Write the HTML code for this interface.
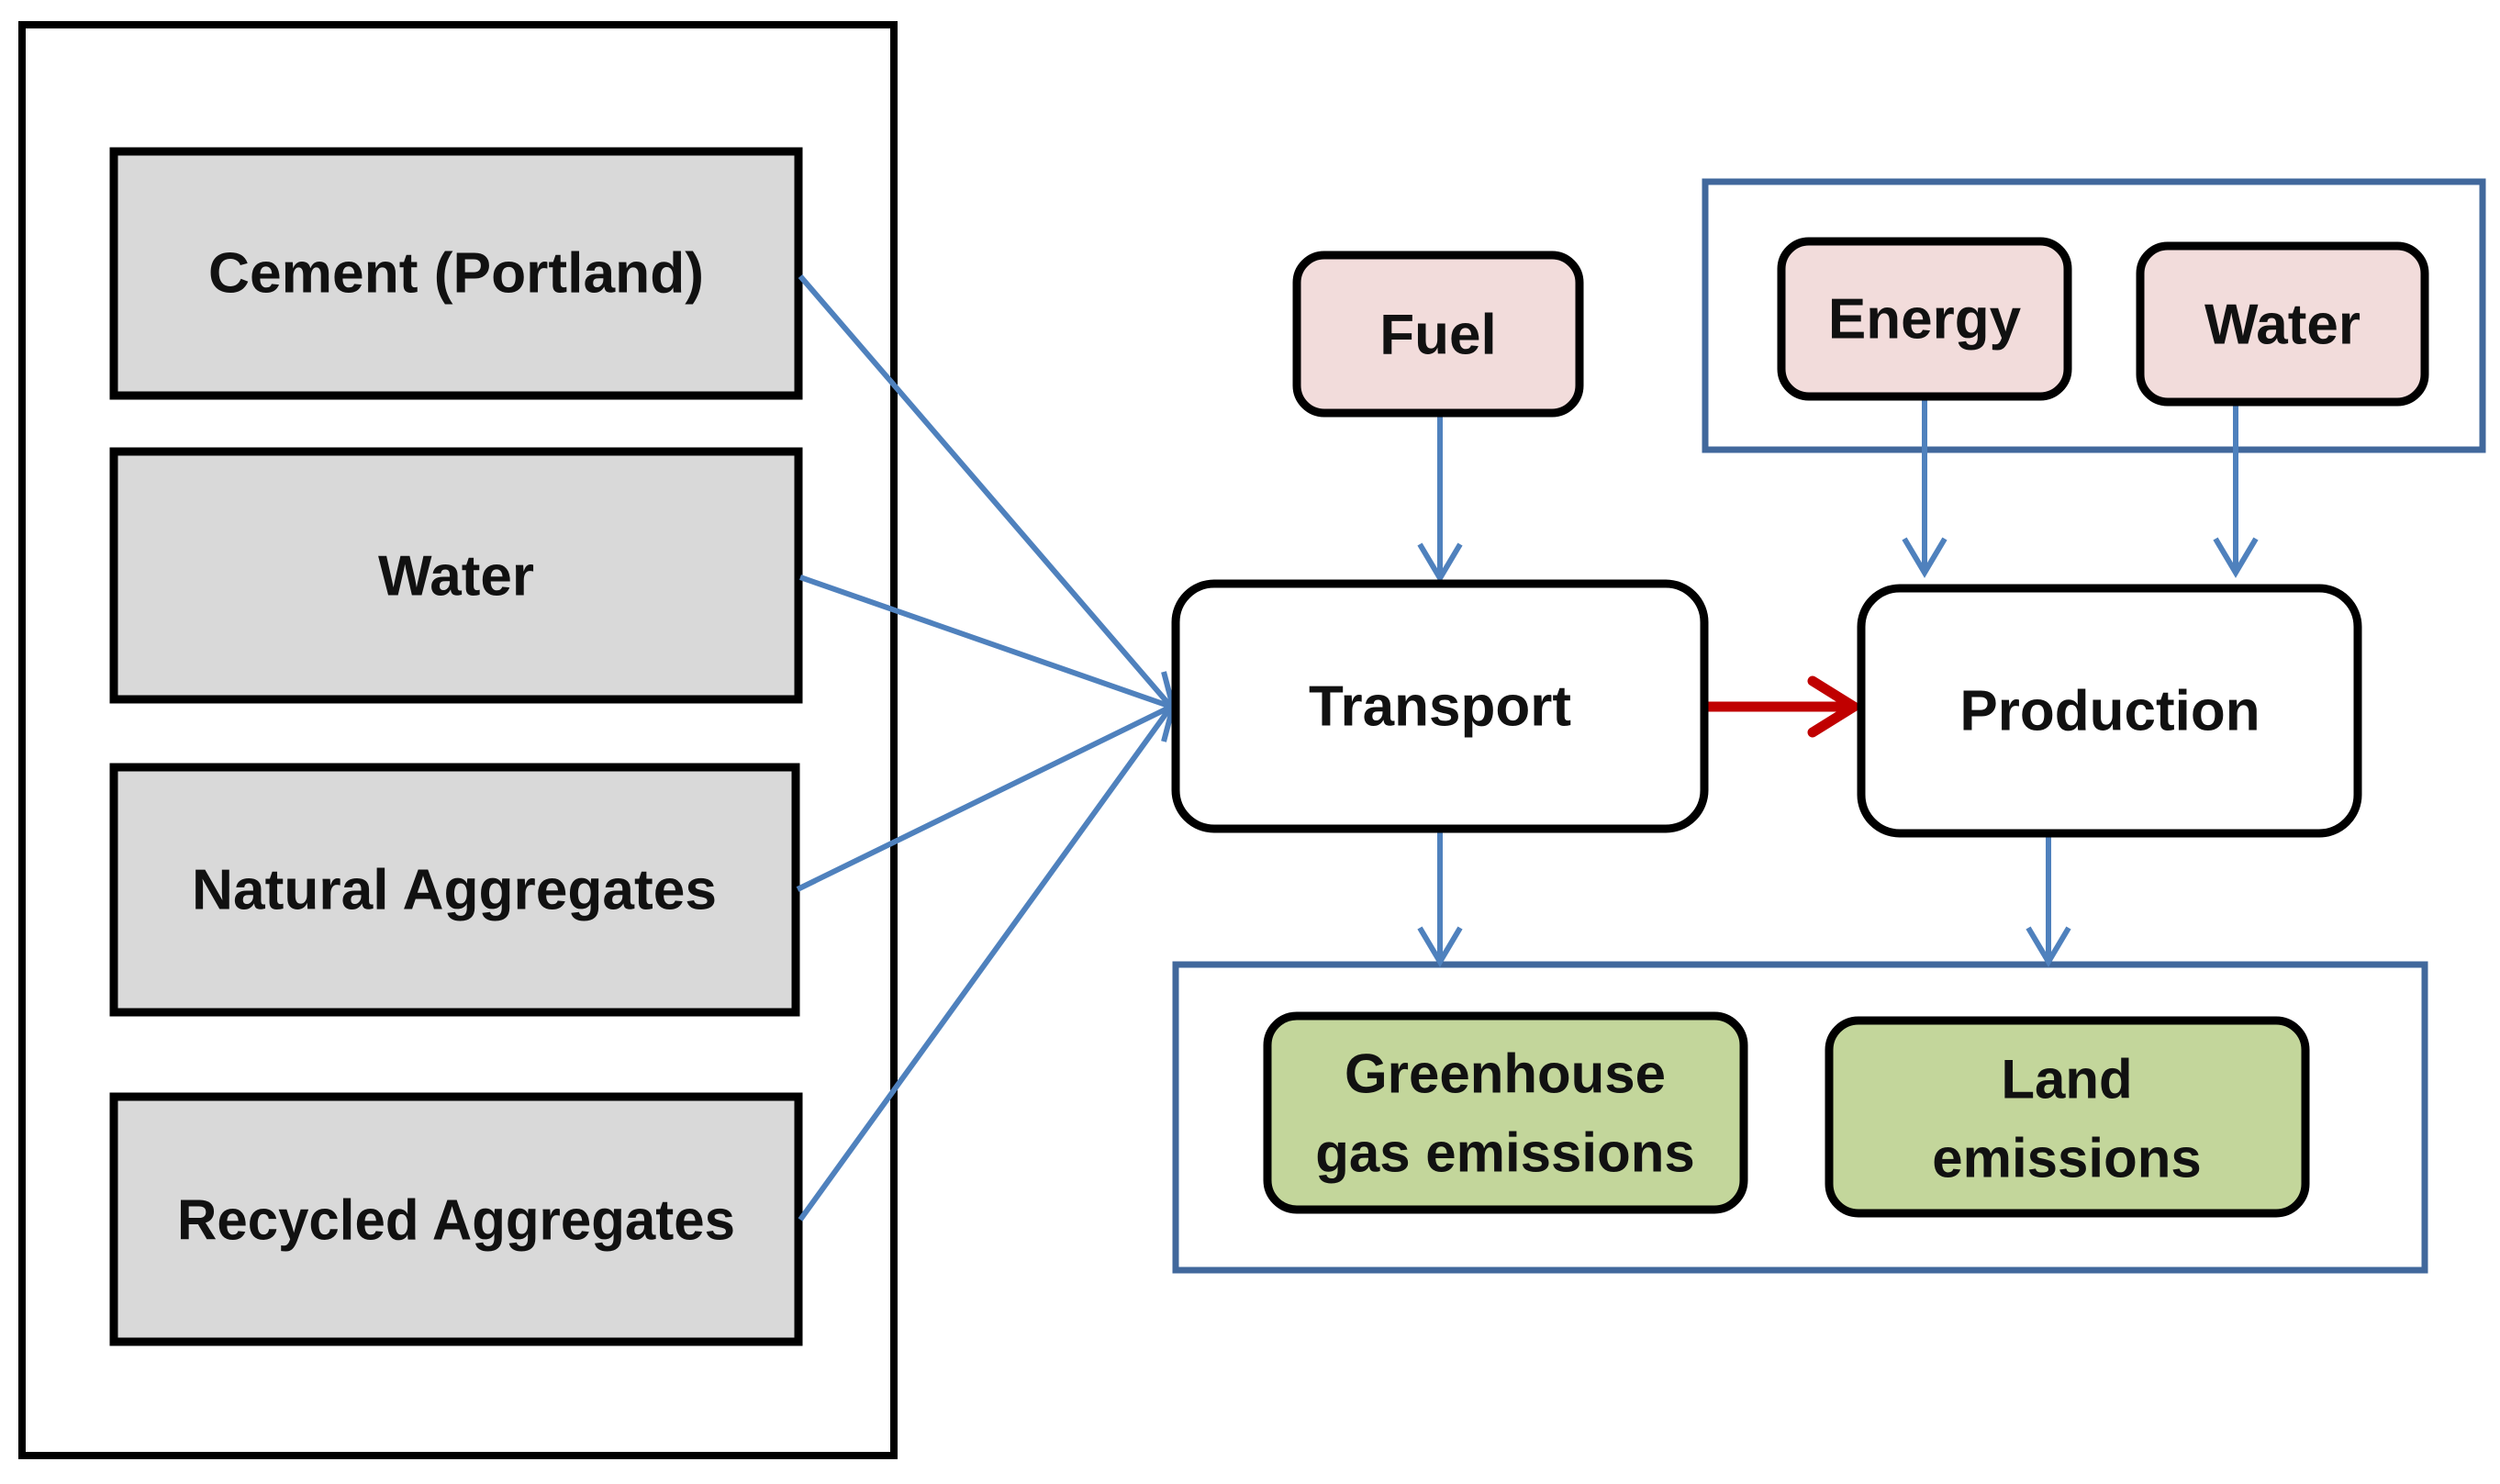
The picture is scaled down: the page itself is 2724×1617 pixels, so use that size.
<!DOCTYPE html>
<html><head><meta charset="utf-8"><style>
html,body{margin:0;padding:0;background:#fff;}
svg text{font-family:"Liberation Sans",sans-serif;font-weight:bold;fill:#111;text-anchor:middle;dominant-baseline:central;}
</style></head><body>
<svg width="2724" height="1612" viewBox="0 0 2724 1612" xmlns="http://www.w3.org/2000/svg">
<rect x="0" y="0" width="2724" height="1612" fill="#fff"/>
<rect x="24" y="27" width="950" height="1559" fill="none" stroke="#000" stroke-width="8"/>
<g fill="#d9d9d9" stroke="#000" stroke-width="9">
<rect x="124" y="165" width="746" height="266"/>
<rect x="124" y="492" width="746" height="270"/>
<rect x="124" y="836" width="743" height="267"/>
<rect x="124" y="1195" width="746" height="267"/>
</g>
<text x="497" y="298" font-size="62" textLength="540" lengthAdjust="spacingAndGlyphs">Cement (Portland)</text>
<text x="497" y="628" font-size="62">Water</text>
<text x="495" y="970" font-size="62" textLength="572" lengthAdjust="spacingAndGlyphs">Natural  Aggregates</text>
<text x="497" y="1330" font-size="62" textLength="608" lengthAdjust="spacingAndGlyphs">Recycled Aggregates</text>
<rect x="1858" y="198" width="847" height="292" fill="none" stroke="#41689c" stroke-width="7"/>
<rect x="1281" y="1051" width="1361" height="333" fill="none" stroke="#41689c" stroke-width="7"/>
<g stroke="#4f81bd" stroke-width="6" fill="none">
<line x1="872" y1="301" x2="1276" y2="770"/>
<line x1="872" y1="629" x2="1276" y2="770"/>
<line x1="869" y1="969" x2="1276" y2="770"/>
<line x1="872" y1="1329" x2="1276" y2="770"/>
<polyline points="1268,732 1278,770 1268,808"/>
<line x1="1569" y1="452" x2="1569" y2="628"/><polyline points="1547,593 1569,630 1591,593"/>
<line x1="2097" y1="434" x2="2097" y2="622"/><polyline points="2075,587 2097,624 2119,587"/>
<line x1="2436" y1="440" x2="2436" y2="622"/><polyline points="2414,587 2436,624 2458,587"/>
<line x1="1569" y1="905" x2="1569" y2="1046"/><polyline points="1547,1011 1569,1048 1591,1011"/>
<line x1="2232" y1="910" x2="2232" y2="1046"/><polyline points="2210,1011 2232,1048 2254,1011"/>
</g>
<g stroke="#c00000" stroke-width="11" fill="none" stroke-linecap="round">
<line x1="1861" y1="770" x2="2018" y2="770"/>
<polyline points="1975,742 2020,770 1975,798"/>
</g>
<rect x="1281" y="636" width="576" height="267" rx="42" fill="#fff" stroke="#000" stroke-width="9"/>
<text x="1569" y="770" font-size="62">Transport</text>
<rect x="2028" y="641" width="541" height="267" rx="42" fill="#fff" stroke="#000" stroke-width="9"/>
<text x="2299" y="775" font-size="62">Production</text>
<g fill="#f2dcdb" stroke="#000" stroke-width="9">
<rect x="1413" y="278" width="308" height="172" rx="30"/>
<rect x="1941" y="263" width="312" height="169" rx="30"/>
<rect x="2332" y="268" width="310" height="170" rx="30"/>
</g>
<text x="1567" y="365" font-size="62">Fuel</text>
<text x="2097" y="348" font-size="62">Energy</text>
<text x="2487" y="354" font-size="62">Water</text>
<g fill="#c3d69b" stroke="#000" stroke-width="9">
<rect x="1381" y="1107" width="519" height="211" rx="32"/>
<rect x="1993" y="1112" width="519" height="210" rx="32"/>
</g>
<text x="1640" y="1170" font-size="60">Greenhouse</text>
<text x="1640" y="1256" font-size="60">gas emissions</text>
<text x="2252" y="1176" font-size="60">Land</text>
<text x="2252" y="1262" font-size="60">emissions</text>
</svg>
</body></html>
